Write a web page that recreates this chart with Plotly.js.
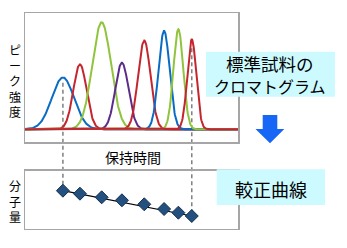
<!DOCTYPE html>
<html><head><meta charset="utf-8">
<script src="https://cdn.plot.ly/plotly-3.0.1.min.js"></script>
<style>html,body{margin:0;padding:0;background:#fff}#chart{width:347px;height:248px}</style>
</head><body><div id="chart"></div><script>
// ---- data ----
const retentionTimes = [17.8, 25.8, 36.0, 45.5, 56.0, 65.3, 72.0, 78.3];
const peakHeights    = [48.4, 60.7, 100, 62.2, 83.0, 91.9, 93.5, 84.1];
const peakWidths     = [5.2, 3.1, 4.4, 3.1, 2.9, 2.6, 2.3, 2.1];
const logMolWeight   = [5.78, 5.48, 5.12, 4.82, 4.42, 3.95, 3.58, 3.25];
const calibTime      = [17.8, 78.3];
const calibLogM      = [5.78, 3.25];
const texts = {
  yTop: 'ピーク強度', yBot: '分子量', xTitle: '保持時間',
  box1a: '標準試料の', box1b: 'クロマトグラム', box2: '較正曲線'
};
// ---- style ----
const peakColors = ['#0A6BC4','#C4262E','#8FC43C','#5C2C8A','#C4262E','#0A6BC4','#8FC43C','#C4262E'];
const FONT = '"Noto Sans CJK JP", "Noto Sans", sans-serif';
const W = 347, H = 248;
const px = x => x / W, py = y => 1 - y / H;
const xDom = [px(25), px(238)];
const topDom = [py(142), py(13)];
const botDom = [py(228.5), py(170.7)];
const xRange = [0, 100];
const topRange = [-11.9, 108.7];
const botRange = [2, 7.78];
const topToPaper = v => topDom[0] + (v - topRange[0]) / (topRange[1] - topRange[0]) * (topDom[1] - topDom[0]);
const botToPaper = v => botDom[0] + (v - botRange[0]) / (botRange[1] - botRange[0]) * (botDom[1] - botDom[0]);

// ---- traces ----
const xs = [];
for (let t = xRange[0]; t <= xRange[1] + 1e-9; t += 0.2) xs.push(+t.toFixed(2));
const traces = [];
retentionTimes.forEach((rt, i) => {
  traces.push({
    x: xs,
    y: xs.map(t => peakHeights[i] * Math.exp(-0.5 * Math.pow((t - rt) / peakWidths[i], 2))),
    type: 'scatter', mode: 'lines', xaxis: 'x', yaxis: 'y',
    line: {color: peakColors[i], width: 2}, hoverinfo: 'skip'
  });
});
traces.push({
  x: calibTime, y: calibLogM, type: 'scatter', mode: 'lines',
  xaxis: 'x2', yaxis: 'y2', line: {color: '#000', width: 1.2}
});
traces.push({
  x: retentionTimes, y: logMolWeight, type: 'scatter', mode: 'markers',
  xaxis: 'x2', yaxis: 'y2',
  marker: {symbol: 'diamond', size: 10, color: '#23507E', line: {color: '#12304F', width: 1}}
});

// ---- shapes ----
const shapes = [];
[0, retentionTimes.length - 1].forEach(i => {
  shapes.push({
    type: 'line', xref: 'x', yref: 'paper', layer: 'below',
    x0: retentionTimes[i], x1: retentionTimes[i],
    y0: topToPaper(peakHeights[i] * 0.9), y1: botToPaper(logMolWeight[i]),
    line: {color: '#7F7F7F', width: 1.5, dash: '4px,3px'}
  });
});
shapes.push({type: 'rect', xref: 'paper', yref: 'paper', layer: 'above',
  x0: px(206), x1: px(335), y0: py(96.7), y1: py(51.7),
  fillcolor: '#CCFAFF', line: {width: 0}});
shapes.push({type: 'rect', xref: 'paper', yref: 'paper', layer: 'above',
  x0: px(216.7), x1: px(325), y0: py(205), y1: py(169.3),
  fillcolor: '#CCFAFF', line: {width: 0}});
// down arrow (pixel path)
const arrowPts = [[262.7,115],[277.3,115],[277.3,129],[284.3,129],[270,143.3],[255.5,129],[262.7,129]];
shapes.push({type: 'path', xref: 'paper', yref: 'paper', layer: 'above',
  path: 'M' + arrowPts.map(p => px(p[0]).toFixed(5) + ',' + py(p[1]).toFixed(5)).join(' L') + ' Z',
  fillcolor: '#1766F5', line: {width: 0}});

// ---- annotations ----
const ann = [];
const addText = (t, x, y, size) => ann.push({text: t, xref: 'paper', yref: 'paper',
  x: px(x), y: py(y), xanchor: 'center', yanchor: 'middle', showarrow: false,
  font: {family: FONT, size: size, color: '#000'}});
addText([...texts.yTop].join('<br>'), 15, 80.4, 12);
addText([...texts.yBot].join('<br>'), 15, 200.7, 12);
addText(texts.xTitle, 133, 156.7, 14);
addText(texts.box1a, 270, 63.5, 17.5);
addText(texts.box1b, 270, 86, 16);
addText(texts.box2, 270.7, 188.5, 18);

const axBase = {showgrid: false, zeroline: false, showticklabels: false, ticks: '',
  showline: true, mirror: true, linecolor: '#A6A6A6', linewidth: 1.5, fixedrange: true};
const layout = {
  width: W, height: H, margin: {l: 0, r: 0, t: 0, b: 0},
  paper_bgcolor: '#fff', plot_bgcolor: 'rgba(0,0,0,0)', showlegend: false,
  xaxis: Object.assign({}, axBase, {domain: xDom, range: xRange, anchor: 'y'}),
  yaxis: Object.assign({}, axBase, {domain: topDom, range: topRange, anchor: 'x'}),
  xaxis2: Object.assign({}, axBase, {domain: xDom, range: xRange, anchor: 'y2'}),
  yaxis2: Object.assign({}, axBase, {domain: botDom, range: botRange, anchor: 'x2'}),
  shapes: shapes, annotations: ann
};
Plotly.newPlot('chart', traces, layout, {displayModeBar: false, staticPlot: true});
</script></body></html>
